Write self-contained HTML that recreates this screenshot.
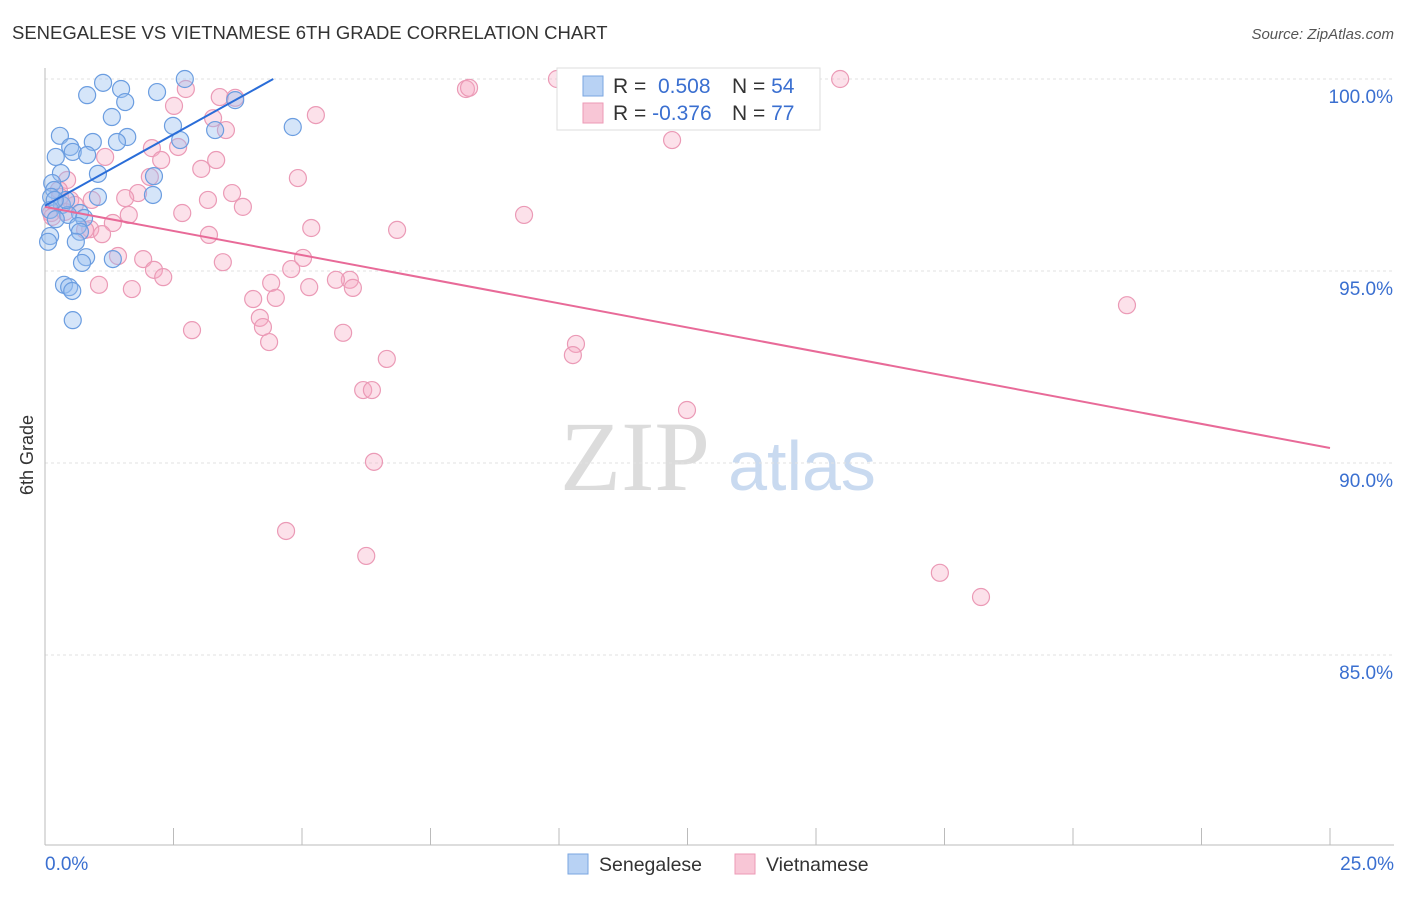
<!DOCTYPE html>
<html><head><meta charset="utf-8"><style>
body{margin:0;background:#fff;font-family:"Liberation Sans",sans-serif;}
</style></head><body>
<svg id="chart" width="1406" height="892" xmlns="http://www.w3.org/2000/svg" style="font-family:'Liberation Sans',sans-serif">
<text x="12" y="39" font-size="18.5" fill="#333">SENEGALESE VS VIETNAMESE 6TH GRADE CORRELATION CHART</text>
<text x="1394" y="39" font-size="15" fill="#555" text-anchor="end" font-style="italic">Source: ZipAtlas.com</text>
<text x="33" y="455" font-size="18" fill="#333" text-anchor="middle" transform="rotate(-90 33 455)">6th Grade</text>
<g>
<text x="635" y="490" font-size="100" fill="#dcdcdc" style="font-family:'Liberation Serif',serif" text-anchor="middle">ZIP</text>
<text x="802" y="490" font-size="70" fill="#c9daf0" text-anchor="middle">atlas</text>
</g>
<g id="grid"></g><g id="axes"></g><g id="marks"></g>
<g>
<rect x="557" y="68" width="263" height="62" fill="#fff" stroke="#ddd"/>
<rect x="583" y="76" width="20" height="20" fill="#b8d2f4" stroke="#7aa6e0"/>
<rect x="583" y="103" width="20" height="20" fill="#f8c6d6" stroke="#ec9ab6"/>
<text x="613" y="93" font-size="21" fill="#333">R = <tspan fill="#3a6fd0">&#160;0.508</tspan><tspan x="732">N = </tspan><tspan fill="#3a6fd0">54</tspan></text>
<text x="613" y="120" font-size="21" fill="#333">R = <tspan fill="#3a6fd0">-0.376</tspan><tspan x="732">N = </tspan><tspan fill="#3a6fd0">77</tspan></text>
</g>
<g>
<rect x="568" y="854" width="20" height="20" fill="#b8d2f4" stroke="#7aa6e0"/>
<text x="599" y="871" font-size="19.5" fill="#333">Senegalese</text>
<rect x="735" y="854" width="20" height="20" fill="#f8c6d6" stroke="#ec9ab6"/>
<text x="766" y="871" font-size="19.5" fill="#333">Vietnamese</text>
</g>
</svg>
<script>
const yTicks=[100,95,90,85];
const yTickLabels=["100.0%","95.0%","90.0%","85.0%"];
const xEnds=[0,25];
const xEndLabels=["0.0%","25.0%"];
const blueX=[1.13,2.72,1.48,2.18,0.82,1.56,3.70,1.30,2.49,3.31,4.82,0.29,1.60,0.93,1.40,0.49,0.54,0.82,0.21,2.63,1.03,2.12,0.31,0.14,0.18,2.10,1.03,0.12,0.33,0.10,0.68,0.45,0.76,0.21,0.64,0.68,0.10,0.60,0.06,0.80,1.32,0.72,0.37,0.47,0.53,0.54,0.41,0.19];
const blueY=[99.90,100,99.74,99.66,99.58,99.40,99.45,99.01,98.78,98.67,98.75,98.52,98.49,98.36,98.36,98.23,98.10,98.02,97.97,98.41,97.53,97.47,97.55,97.29,97.11,96.98,96.93,96.93,96.72,96.59,96.51,96.46,96.38,96.35,96.17,96.02,95.91,95.76,95.76,95.36,95.31,95.21,94.64,94.58,94.48,93.72,96.85,96.85];
const pinkX=[9.96,15.47,8.19,8.25,2.74,3.40,3.70,2.51,5.27,3.27,3.52,12.20,2.59,2.08,3.33,2.26,1.17,3.04,4.92,2.04,0.43,3.64,1.81,0.27,1.56,3.17,0.91,3.85,0.49,2.67,1.63,9.32,0.12,1.32,5.18,6.85,3.19,0.88,1.11,0.78,1.91,1.42,3.46,5.02,4.79,2.12,2.30,4.40,5.93,5.66,1.05,1.69,5.14,5.99,4.05,4.49,21.05,4.18,4.24,2.86,5.80,4.36,10.33,10.27,6.65,6.19,6.36,12.49,6.40,4.69,6.25,17.41,18.21,0.29,0.14,0.39,0.58];
const pinkY=[100,100,99.74,99.77,99.74,99.53,99.51,99.30,99.06,98.98,98.67,98.41,98.23,98.20,97.89,97.89,97.97,97.66,97.42,97.45,97.37,97.03,97.03,97.11,96.90,96.85,96.85,96.67,96.85,96.51,96.46,96.46,96.51,96.25,96.12,96.07,95.94,96.09,95.96,96.07,95.31,95.39,95.23,95.34,95.05,95.03,94.84,94.69,94.77,94.77,94.64,94.53,94.58,94.56,94.27,94.30,94.11,93.78,93.54,93.46,93.39,93.15,93.10,92.81,92.71,91.90,91.90,91.38,90.03,88.23,87.58,87.14,86.51,96.93,96.41,96.54,96.72];
const blueTrendX=[0,4.44];
const blueTrendY=[96.7,100];
const pinkTrendX=[0,25];
const pinkTrendY=[96.67,90.39];

const NS="http://www.w3.org/2000/svg";
const sx=v=>45+v/25*1285;
const sy=v=>79+(100-v)*38.4;
function mk(tag,attrs,parent){const e=document.createElementNS(NS,tag);for(const k in attrs)e.setAttribute(k,attrs[k]);document.getElementById(parent).appendChild(e);return e;}
yTicks.forEach((t,i)=>{
 const l=mk('line',{x1:45,x2:1394,y1:sy(t),y2:sy(t),stroke:'#e2e2e2','stroke-dasharray':'3,3'},'grid');
 
 
 const tx=mk('text',{x:1393,y:sy(t)+24,'font-size':19,fill:'#3a6fd0','text-anchor':'end'},'axes');
 tx.textContent=yTickLabels[i];
 
 
});
const ax=mk('line',{x1:45,x2:1394,y1:845,y2:845,stroke:'#bbb'},'axes');


const ay=mk('line',{x1:45,x2:45,y1:68,y2:845,stroke:'#bbb'},'axes');


for(let i=0;i<=10;i++){
 const t=mk('line',{x1:sx(i*2.5),x2:sx(i*2.5),y1:828,y2:845,stroke:'#bbb'},'axes');
 
 
}
xEnds.forEach((v,i)=>{
 const t=mk('text',{x:i?1394:45,y:870,'font-size':19,fill:'#3a6fd0','text-anchor':i?'end':'start'},'axes');
 t.textContent=xEndLabels[i];
 
 
});
pinkX.forEach((x,i)=>{
 const c=mk('circle',{cx:sx(x),cy:sy(pinkY[i]),r:8.5,fill:'rgba(245,170,195,0.35)',stroke:'#eb9ab6','stroke-width':1.2},'marks');
 
 
});
blueX.forEach((x,i)=>{
 const c=mk('circle',{cx:sx(x),cy:sy(blueY[i]),r:8.5,fill:'rgba(150,190,240,0.4)',stroke:'#6b9de0','stroke-width':1.2},'marks');
 
 
});
const pl=mk('line',{x1:sx(pinkTrendX[0]),y1:sy(pinkTrendY[0]),x2:sx(pinkTrendX[1]),y2:sy(pinkTrendY[1]),stroke:'#e86a98','stroke-width':2},'marks');


const bl=mk('line',{x1:sx(blueTrendX[0]),y1:sy(blueTrendY[0]),x2:sx(blueTrendX[1]),y2:sy(blueTrendY[1]),stroke:'#2a6dd8','stroke-width':2},'marks');


</script>
</body></html>
